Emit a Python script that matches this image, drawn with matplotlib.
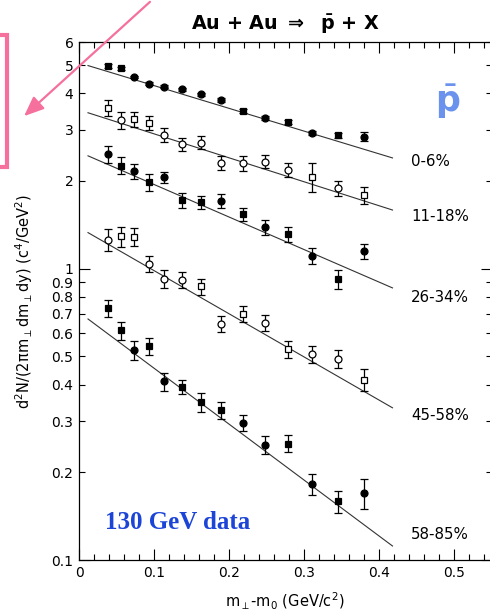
import numpy as np
import matplotlib.pyplot as plt
from matplotlib.patches import Rectangle, FancyArrowPatch
from matplotlib.ticker import MultipleLocator

plt.rcParams["font.family"] = "DejaVu Sans"
plt.rcParams["mathtext.default"] = "regular"

# m_T - m_0 bin centres (GeV/c^2), shared by all centralities
mt = [0.039, 0.056, 0.073, 0.093, 0.113, 0.137, 0.162, 0.189, 0.218, 0.248, 0.279, 0.311, 0.345, 0.380]

centrality = ["0-6%", "11-18%", "26-34%", "45-58%", "58-85%"]

# yields, errors and marker type per point ('s' square, 'o' circle)
y_0_6 = [4.98, 4.88, 4.56, 4.31, 4.22, 4.13, 3.97, 3.78, 3.48, 3.30, 3.19, 2.93, 2.87, 2.84]
e_0_6 = [0.08, 0.06, 0.04, 0.05, 0.05, 0.05, 0.05, 0.06, 0.05, 0.05, 0.05, 0.05, 0.05, 0.10]
m_0_6 = "ssoooooosososo"

y_11_18 = [3.56, 3.24, 3.26, 3.17, 2.88, 2.68, 2.71, 2.31, 2.30, 2.33, 2.18, 2.07, 1.89, 1.79]
e_11_18 = [0.23, 0.22, 0.20, 0.18, 0.15, 0.14, 0.14, 0.12, 0.13, 0.12, 0.12, 0.23, 0.11, 0.12]
m_11_18 = "sossooooooosos"

y_26_34 = [2.47, 2.26, 2.16, 1.98, 2.06, 1.72, 1.69, 1.71, 1.54, 1.39, 1.315, 1.108, 0.922, 1.147]
e_26_34 = [0.17, 0.15, 0.13, 0.13, 0.09, 0.10, 0.09, 0.09, 0.08, 0.08, 0.076, 0.07, 0.068, 0.07]
m_26_34 = "ososossososo" + "so"

y_45_58 = [1.257, 1.29, 1.284, 1.04, 0.922, 0.917, 0.870, 0.646, 0.699, 0.651, 0.530, 0.510, 0.490, 0.416]
e_45_58 = [0.11, 0.10, 0.09, 0.067, 0.066, 0.058, 0.055, 0.042, 0.045, 0.041, 0.036, 0.034, 0.035, 0.037]
m_45_58 = "ossooosososoos"

y_58_85 = [0.731, 0.614, 0.525, 0.542, 0.410, 0.393, 0.348, 0.327, 0.296, 0.249, 0.251, 0.182, 0.159, 0.170]
e_58_85 = [0.05, 0.044, 0.038, 0.037, 0.029, 0.022, 0.025, 0.022, 0.018, 0.017, 0.017, 0.015, 0.014, 0.02]
m_58_85 = "ssososssoososo"

# exponential fits, drawn as straight lines on the log axis
fit_x = [0.012, 0.418]
fit_start = [4.98, 3.43, 2.44, 1.33, 0.672]
fit_end = [2.40, 1.59, 0.859, 0.333, 0.1117]

series = [(y_0_6, e_0_6, m_0_6, True),
          (y_11_18, e_11_18, m_11_18, False),
          (y_26_34, e_26_34, m_26_34, True),
          (y_45_58, e_45_58, m_45_58, False),
          (y_58_85, e_58_85, m_58_85, True)]

label_y = [2.33, 1.51, 0.795, 0.313, 0.1225]

fig = plt.figure(figsize=(4.9, 6.11), dpi=100)
ax = fig.add_axes([79 / 490, 51 / 611, 412.5 / 490, 518 / 611])

for i, (y, e, marks, filled) in enumerate(series):
    ax.plot(fit_x, [fit_start[i], fit_end[i]], color="#333333", lw=0.8, zorder=1)
    for xv, yv, ev, mk in zip(mt, y, e, marks):
        ax.errorbar(xv, yv, yerr=ev, fmt=mk, ms=5 if mk == "o" else 4.6,
                    mfc="black" if filled else "white", mec="black", mew=0.9,
                    ecolor="black", elinewidth=0.9, capsize=3, capthick=0.9, zorder=3)
    ax.text(0.443, label_y[i], centrality[i], fontsize=10.8, va="center", ha="left")

ax.set_yscale("log")
ax.set_xlim(0, 0.55)
ax.set_ylim(0.1, 6)

ax.xaxis.set_minor_locator(MultipleLocator(0.02))
ax.set_xticks([0, 0.1, 0.2, 0.3, 0.4, 0.5])
ax.set_xticklabels(["0", "0.1", "0.2", "0.3", "0.4", "0.5"])

ax.set_yticks([0.1, 1])
ax.set_yticklabels(["0.1", "1"])
minor_vals = [0.2, 0.3, 0.4, 0.5, 0.6, 0.7, 0.8, 0.9, 2, 3, 4, 5, 6]
ax.set_yticks(minor_vals, minor=True)
ax.set_yticklabels([str(v) for v in minor_vals], minor=True)

ax.tick_params(which="both", direction="in", top=True, right=True, labelsize=10, width=0.8, pad=4)
ax.tick_params(which="major", length=8)
ax.tick_params(which="minor", length=4)
for s in ax.spines.values():
    s.set_linewidth(0.9)

ax.set_xlabel(r"m$_\perp$-m$_0$ (GeV/c$^2$)", fontsize=10.5, labelpad=8)
ax.set_ylabel(r"d$^2$N/(2$\pi$m$_\perp$dm$_\perp$dy) (c$^4$/GeV$^2$)", fontsize=10.5, labelpad=12)
ax.set_title(r"Au + Au $\Rightarrow$  $\bar{\mathbf{p}}$ + X", fontsize=13.8, fontweight="bold", pad=9)

ax.text(0.893, 0.885, r"$\bar{\mathbf{p}}$", transform=ax.transAxes, fontsize=25,
        color="#6b93ee", ha="center", va="center")
ax.text(0.062, 0.06, "130 GeV data", transform=ax.transAxes, fontsize=18,
        family="Liberation Serif", fontweight="bold", color="#1c45d8")

# pink callout: box at the left edge and an arrow pointing to it
pink = "#f5709c"
fig.add_artist(Rectangle((-20 / 490, 1 - 167 / 611), 27 / 490, 132 / 611,
                         transform=fig.transFigure, fill=False, ec=pink, lw=3))
fig.add_artist(FancyArrowPatch((152 / 490, 1.0), (22 / 490, 1 - 118 / 611),
                               transform=fig.transFigure, arrowstyle="-|>,head_length=12,head_width=5",
                               color=pink, lw=1.6))

plt.savefig("out.png", dpi=100)
